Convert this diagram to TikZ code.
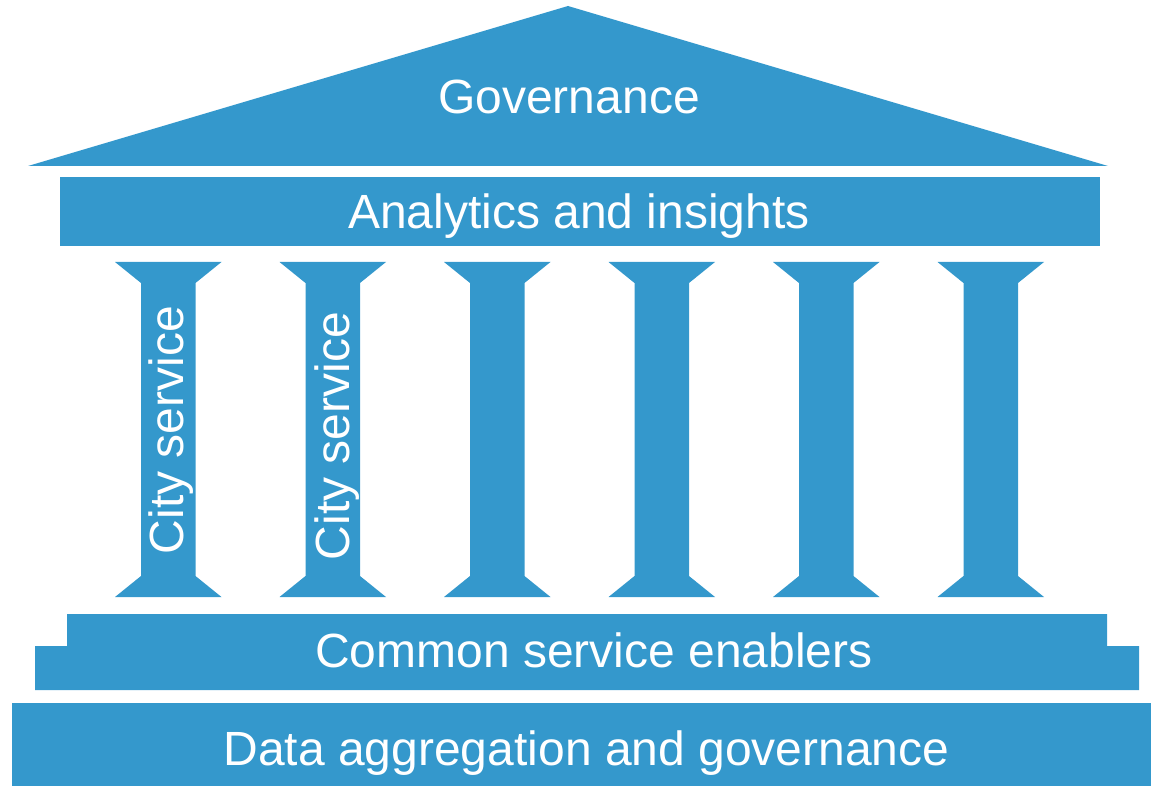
\documentclass[tikz,border=0pt]{standalone}
\usepackage{fontspec}
\setmainfont{Liberation Sans}
\definecolor{pillar}{RGB}{52,152,204}
\begin{document}
\begin{tikzpicture}[x=1pt,y=-1pt,
  lbl/.style={text=white,font=\fontsize{48}{56}\selectfont,inner sep=0pt,anchor=base},
  block/.style={fill=pillar,draw=none}]
\useasboundingbox (0,0) rectangle (1151,786);
% roof
\fill[block] (568,6) -- (1108,166) -- (28,166) -- cycle;
% architrave
\fill[block] (60,177) rectangle (1100,246);
% columns
\foreach \L in {115,279.5,444,608.5,773,937.5}{
  \fill[block] (\L,262) -- ++(106.5,0) -- ++(-26,21) -- ++(0,293) -- ++(26,21)
     -- ++(-106.5,0) -- ++(26,-21) -- ++(0,-293) -- cycle;
}
% stylobate steps
\fill[block] (67,614) -- (1107,614) -- (1107,646) -- (1139,646) -- (1139,690)
   -- (35,690) -- (35,646) -- (67,646) -- cycle;
% base
\fill[block] (12,703) rectangle (1151,786);
% labels
\node[lbl] (gov) at (569,114) {Governance};
\node[lbl] (ana) at (579,229) {Analytics and insights};
\node[lbl] (cse) at (594,667) {Common service enablers};
\node[lbl] (dag) at (586.5,765) {Data aggregation and governance};
\node[lbl,rotate=90] (cs1) at (183,430) {City service};
\node[lbl,rotate=90] (cs2) at (349,436) {City service};
\end{tikzpicture}
\end{document}
